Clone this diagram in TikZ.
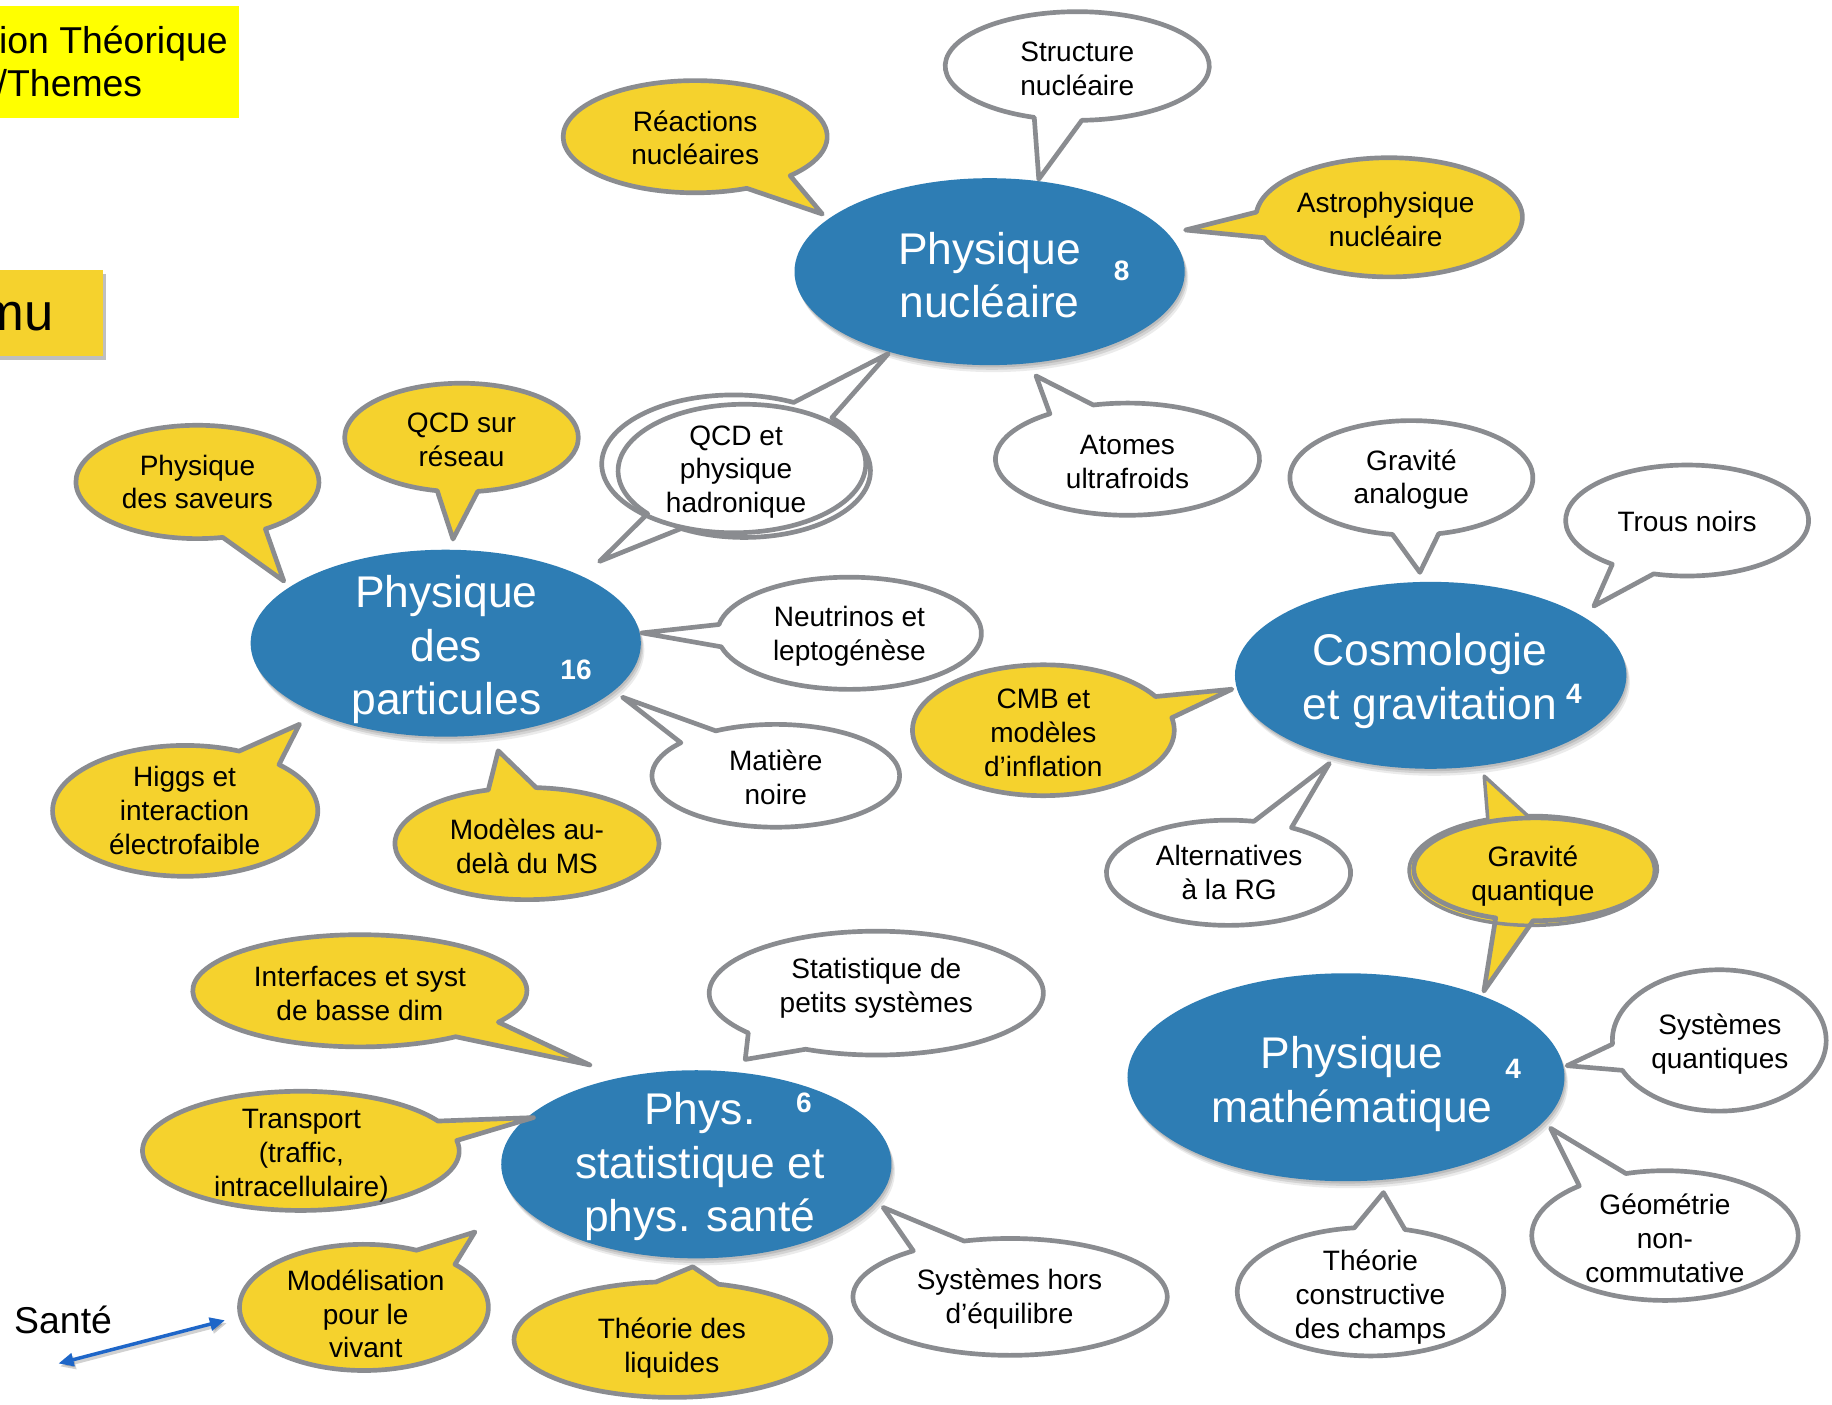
\documentclass[tikz,border=0pt]{standalone}
\usepackage{fontspec}
\setmainfont{Liberation Sans}
\usetikzlibrary{shapes.geometric,shadows,arrows.meta,calc}

\definecolor{topicblue}{HTML}{2E7DB4}
\definecolor{bubyellow}{HTML}{F5D22D}
\definecolor{bubgray}{HTML}{8A8C90}
\definecolor{titleyellow}{HTML}{FFFF00}
\definecolor{arrowblue}{HTML}{1E66C8}

% Speech bubble: ellipse around a centre coordinate with a pointed tail.
% #1 style, #2 centre, #3/#4 radii, #5/#6 parametric angles bounding the tail base, #7 tail tip
\newcommand\callbub[7][]{%
  \path[bubline,#1] (#2) ++(#6:#3 and #4)
    arc[start angle=#6, delta angle={360-(#6)+(#5)}, x radius=#3, y radius=#4]
    -- #7 -- cycle;}

\begin{document}
\begin{tikzpicture}[x=1pt,y=-1pt,
  bubline/.style={draw=bubgray, line width=4pt, line join=round},
  ybub/.style={fill=bubyellow},
  wbub/.style={fill=white},
  btext/.style={font=\fontsize{24}{29}\selectfont, align=center, inner sep=0pt},
  softshadow/.style={
    drop shadow={fill=black, opacity=0.10, shadow xshift=1pt, shadow yshift=-2pt},
    drop shadow={fill=black, opacity=0.10, shadow xshift=2pt, shadow yshift=-4pt},
    drop shadow={fill=black, opacity=0.08, shadow xshift=3pt, shadow yshift=-6pt}},
  topic/.style={ellipse, fill=topicblue, inner sep=0pt, softshadow},
  ttext/.style={font=\fontsize{38}{46}\selectfont, align=center, text=white, inner sep=0pt},
  tnum/.style={font=\fontsize{24}{29}\selectfont\bfseries, text=white, inner sep=0pt},
  titletext/.style={font=\fontsize{32}{37}\selectfont, inner sep=0pt},
  boxshadow/.style={drop shadow={fill=black, opacity=0.25, shadow xshift=3pt, shadow yshift=-3pt}},
  santearrow/.style={{Triangle[length=13pt,width=11pt]}-{Triangle[length=13pt,width=11pt]},
    draw=arrowblue, line width=3pt}
]
\useasboundingbox (0,0) rectangle (1568,1202);
\fill[white] (0,0) rectangle (1568,1202);

% header boxes
\node[fill=titleyellow, inner sep=0pt, minimum width=220, minimum height=95.5, anchor=north east] (titlebox) at (204.5,5) {};
\node[titletext, anchor=base west] (title-a) at (-1,45.6) {ion Théorique};
\node[titletext, anchor=base west] (title-b) at (-3,82.7) {/Themes};
\node[fill=bubyellow, inner sep=0pt, minimum width=100, minimum height=73.5, anchor=north east, boxshadow] (mubox) at (88,231) {};
\node[font=\fontsize{45}{54}\selectfont, inner sep=0pt, anchor=base east] (mu) at (46,282.5) {mu};

% main topics
\node[topic, minimum width=334, minimum height=160] (pn) at (847,232.5) {};
\node[topic, minimum width=334, minimum height=160] (pp) at (381.5,550.5) {};
\node[topic, minimum width=335, minimum height=160] (cg) at (1224.5,578) {};
\node[topic, minimum width=374, minimum height=178] (mp) at (1152,922) {};
\node[topic, minimum width=334, minimum height=161] (ps) at (596,996.5) {};

\node[ttext] (pn-t) at (847,235.5) {Physique\\nucléaire};
\node[ttext] (pp-t) at (382,556) {Physique\\des\\particules};
\node[ttext] (cg-t) at (1224,583) {Cosmologie\\et gravitation};
\node[ttext] (mp-t) at (1157,928) {Physique\\mathématique};
\node[ttext] (ps-t) at (599,998.5) {Phys.\\statistique et\\phys. santé};

\node[tnum] (pn-n) at (960,232) {8};
\node[tnum] (pp-n) at (493,573) {16};
\node[tnum] (cg-n) at (1347,594) {4};
\node[tnum] (mp-n) at (1295,915) {4};
\node[tnum] (ps-n) at (688,944) {6};

% bubbles around Physique nucleaire
\coordinate (b-reac) at (595,117);
\callbub[ybub]{b-reac}{113}{48}{44}{67}{($(pn.center)!1.054!(pn.161)$)}
\coordinate (b-struc) at (922,56.5);
\callbub[wbub]{b-struc}{113}{46.5}{88}{109}{($(pn.center)!1.019!(pn.62)$)}
\coordinate (b-astro) at (1189,186);
\callbub[ybub]{b-astro}{114}{51}{160}{185}{($(pn.center)!1.097!(pn.12)$)}
\coordinate (b-atom) at (965,393);
\callbub[wbub]{b-atom}{113}{48}{234}{255}{($(pn.center)!1.138!(pn.-66)$)}

% double bubble shared by two topics
\coordinate (b-qcda) at (628,397);
\coordinate (b-qcdb) at (637,403);
\callbub[draw=none,fill=white]{b-qcda}{113}{59}{-63}{-42}{($(pn.center)!1.017!(pn.-141)$)}
\callbub[draw=none,fill=white]{b-qcdb}{108}{57}{120}{140}{($(pp.center)!1.176!(pp.28)$)}
\callbub{b-qcda}{113}{59}{-63}{-42}{($(pn.center)!1.017!(pn.-141)$)}
\callbub{b-qcdb}{108}{57}{120}{140}{($(pp.center)!1.176!(pp.28)$)}

% bubbles around Physique des particules
\coordinate (b-sav) at (169,412.5);
\callbub[ybub]{b-sav}{104}{48.5}{56}{78}{($(pp.center)!1.062!(pp.159)$)}
\coordinate (b-lat) at (395,374.5);
\callbub[ybub]{b-lat}{100}{46.5}{82}{102}{($(pp.center)!1.112!(pp.86)$)}
\coordinate (b-neut) at (727,542);
\callbub[wbub]{b-neut}{113}{48}{166}{189}{($(pp.center)!1.011!(pp.3)$)}
\coordinate (b-dm) at (664,664);
\callbub[wbub]{b-dm}{106}{44}{220}{241}{($(pp.center)!1.073!(pp.-17)$)}
\coordinate (b-higgs) at (158.5,694);
\callbub[ybub]{b-higgs}{113.5}{56}{-66}{-45}{($(pp.center)!1.144!(pp.-151)$)}
\coordinate (b-bsm) at (451,722);
\callbub[ybub]{b-bsm}{113}{48}{-107}{-86}{($(pp.center)!1.179!(pp.-64)$)}

% bubbles around Cosmologie et gravitation
\coordinate (b-anal) at (1208,409);
\callbub[wbub]{b-anal}{104}{49}{77}{99}{($(cg.center)!1.100!(cg.96)$)}
\coordinate (b-bh) at (1444,445.5);
\callbub[wbub]{b-bh}{104}{47.5}{106}{128}{($(cg.center)!1.114!(cg.23)$)}
\coordinate (b-cmb) at (893,625);
\callbub[ybub]{b-cmb}{112}{56}{-31}{-11}{($(cg.center)!1.025!(cg.184)$)}
\coordinate (b-alt) at (1051.5,747);
\callbub[wbub]{b-alt}{104.5}{45}{-78}{-59}{($(cg.center)!1.073!(cg.-139)$)}

% double bubble between cosmology and mathematical physics
\coordinate (b-gqa) at (1311,745);
\coordinate (b-gqb) at (1314,744);
\callbub[draw=none,fill=bubyellow]{b-gqa}{105}{47}{249}{268}{($(cg.center)!1.11!(cg.-62)$)}
\callbub[draw=none,fill=bubyellow]{b-gqb}{104}{44}{91}{109}{($(mp.center)!1.040!(mp.32)$)}
\callbub[line width=3pt]{b-gqa}{105}{47}{249}{268}{($(cg.center)!1.11!(cg.-62)$)}
\callbub{b-gqb}{104}{44}{91}{109}{($(mp.center)!1.040!(mp.32)$)}

% bubbles around Physique mathematique
\coordinate (b-sq) at (1471.5,890.5);
\callbub[wbub]{b-sq}{91.5}{60.5}{155}{177}{($(mp.center)!1.017!(mp.3)$)}
\coordinate (b-geo) at (1425,1057.5);
\callbub[wbub]{b-geo}{114}{55.5}{230}{253}{($(mp.center)!1.056!(mp.-14)$)}
\coordinate (b-tc) at (1173,1105.5);
\callbub[wbub]{b-tc}{114}{55}{263}{285}{($(mp.center)!1.12!(mp.-72)$)}

% bubbles around Phys. statistique
\coordinate (b-intf) at (308,848);
\callbub[ybub]{b-intf}{143}{48}{34}{55}{($(ps.center)!1.186!(ps.137)$)}
\coordinate (b-sps) at (750,850);
\callbub[wbub]{b-sps}{143}{53}{115}{140}{($(ps.center)!1.14!(ps.65)$)}
\coordinate (b-trans) at (257.5,985);
\callbub[ybub]{b-trans}{135.5}{51}{-30}{-10}{($(ps.center)!0.97!(ps.164)$)}
\coordinate (b-mod) at (311.5,1119);
\callbub[ybub]{b-mod}{106.5}{54}{-65}{-43}{($(ps.center)!1.342!(ps.-163)$)}
\coordinate (b-tdl) at (575.5,1146.5);
\callbub[ybub]{b-tdl}{135.5}{49.5}{264}{287}{($(ps.center)!1.087!(ps.-92)$)}
\coordinate (b-she) at (864.5,1110);
\callbub[wbub]{b-she}{134.5}{50}{232}{253}{($(ps.center)!1.06!(ps.-13)$)}

% bubble texts
\node[btext] (reac-t) at (595,118) {Réactions\\nucléaires};
\node[btext] (struc-t) at (922,59) {Structure\\nucléaire};
\node[btext] (astro-t) at (1186,187.5) {Astrophysique\\nucléaire};
\node[btext] (atom-t) at (965,395.5) {Atomes\\ultrafroids};
\node[btext] (qcd-t) at (630,404) {QCD et\\physique\\hadronique};
\node[btext] (sav-t) at (169,412.5) {Physique\\des saveurs};
\node[btext] (lat-t) at (395,376.5) {QCD sur\\réseau};
\node[btext] (neut-t) at (727,544.5) {Neutrinos et\\leptogénèse};
\node[btext] (dm-t) at (664,665) {Matière\\noire};
\node[btext] (higgs-t) at (158,694) {Higgs et\\interaction\\électrofaible};
\node[btext] (bsm-t) at (451,724) {Modèles au-\\delà du MS};
\node[btext] (anal-t) at (1208,410.5) {Gravité\\analogue};
\node[btext] (bh-t) at (1444,446) {Trous noirs};
\node[btext] (cmb-t) at (893,627) {CMB et\\modèles\\d’inflation};
\node[btext] (alt-t) at (1052,747) {Alternatives\\à la RG};
\node[btext] (gq-t) at (1312,749.5) {Gravité\\quantique};
\node[btext] (sq-t) at (1472,893.5) {Systèmes\\quantiques};
\node[btext] (geo-t) at (1425,1060) {Géométrie\\non-\\commutative};
\node[btext] (tc-t) at (1173,1110) {Théorie\\constructive\\des champs};
\node[btext] (intf-t) at (308,850.5) {Interfaces et syst\\de basse dim};
\node[btext] (sps-t) at (750,845.5) {Statistique de\\petits systèmes};
\node[btext] (trans-t) at (258,989) {Transport\\(traffic,\\intracellulaire)};
\node[btext] (mod-t) at (313,1124.5) {Modélisation\\pour le\\vivant};
\node[btext] (tdl-t) at (575,1153.5) {Théorie des\\liquides};
\node[btext] (she-t) at (864,1111.5) {Systèmes hors\\d’équilibre};

% health link
\node[font=\fontsize{32}{38}\selectfont, inner sep=0pt, anchor=base] (sante) at (54,1141) {Santé};
\coordinate (sante-l) at (50,1167);
\coordinate (sante-r) at (192.6,1130);
\draw[santearrow, draw=black, opacity=0.18, transform canvas={xshift=1.5pt,yshift=-2.5pt}] (sante-l) -- (sante-r);
\draw[santearrow] (sante-l) -- (sante-r);
\end{tikzpicture}
\end{document}
